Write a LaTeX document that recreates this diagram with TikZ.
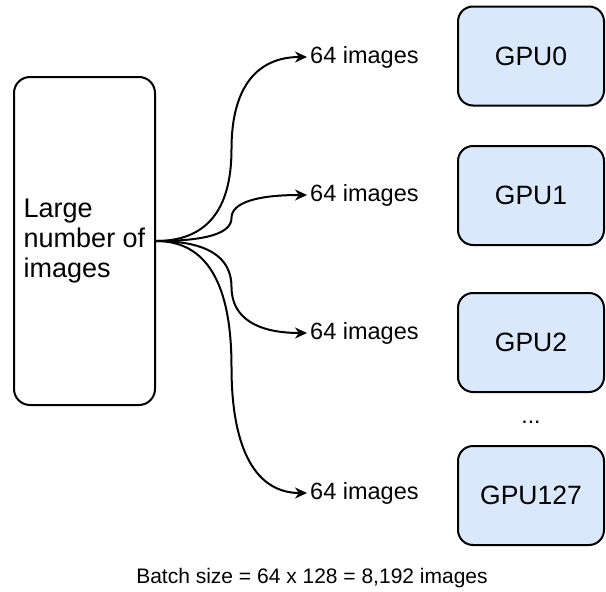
\documentclass[tikz,border=0pt]{standalone}
\usepackage{fontspec}
\setmainfont{Liberation Sans}
\usetikzlibrary{arrows.meta,calc}
\definecolor{gpufill}{RGB}{218,232,252}

\begin{document}
\begin{tikzpicture}[x=1pt,y=-1pt,>={Stealth[length=12pt,width=11pt]},
  gpubox/.style={draw,line width=2pt,rounded corners=15pt,fill=gpufill,minimum width=146pt,minimum height=99pt,font=\fontsize{26.5}{30}\selectfont},
  imglabel/.style={anchor=west,inner sep=3pt,font=\fontsize{23.5}{28}\selectfont},
  link/.style={->,line width=2pt}]
  \useasboundingbox (0,0) rectangle (606,592);
  \node[draw,line width=2pt,rounded corners=16pt,minimum width=141pt,minimum height=328pt,align=left,font=\fontsize{27}{30}\selectfont] (pool) at (84.5,241) {Large\\number of\\images};
  \foreach \i/\ly/\gy/\gname in {0/57/56/GPU0,1/195/195.5/GPU1,2/333/342.5/GPU2,3/493/495.5/GPU127} {
    \node[imglabel] (lbl\i) at (307,\ly) {64 images};
    \node[gpubox] (gpu\i) at (531,\gy) {\gname};
    \coordinate (k\i) at ($(pool.east)!.5!(lbl\i.west)$);
    \coordinate (a\i) at (k\i |- pool.east);
    \coordinate (b\i) at (k\i |- lbl\i.west);
    \draw[link] (pool.east) .. controls ($(pool.east)!2/3!(a\i)$) and ($(k\i)!2/3!(a\i)$) .. (k\i)
      .. controls ($(k\i)!2/3!(b\i)$) and ($(lbl\i.west)!2/3!(b\i)$) .. (lbl\i.west);
  }
  \node[font=\fontsize{23}{28}\selectfont] (dots) at (531,422) {...};
  \node[font=\fontsize{21}{25}\selectfont] (batch) at (312,578) {Batch size = 64 x 128 = 8,192 images};
\end{tikzpicture}
\end{document}
